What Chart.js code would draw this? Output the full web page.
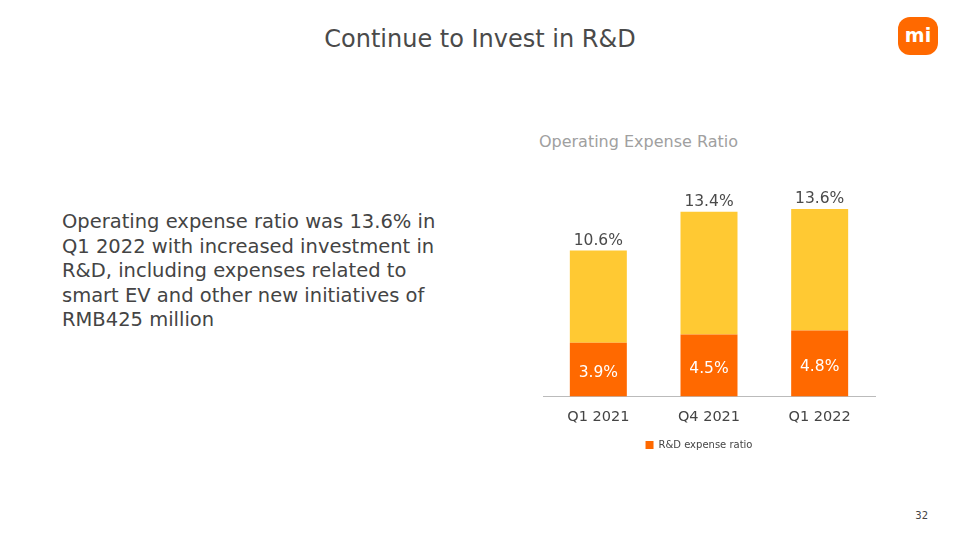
<!DOCTYPE html>
<html>
<head>
<meta charset="utf-8">
<script src="https://cdn.jsdelivr.net/npm/chart.js@4"></script>
<style>
  body { margin: 0; width: 960px; height: 540px; background: #fff; position: relative; overflow: hidden; font-family: "DejaVu Sans", sans-serif; color: #444; }
  .title { position: absolute; top: 25px; left: 0; width: 960px; text-align: center; font-size: 24px; color: #4a4a4a; }
  .logo { position: absolute; left: 898px; top: 17px; width: 40px; height: 38px; background: #ff6900; border-radius: 12px; color: #fff; font-weight: bold; font-size: 19px; text-align: center; line-height: 36px; }
  .side { position: absolute; left: 62px; top: 210px; width: 440px; font-size: 19.5px; line-height: 24.5px; color: #444; }
  .sub { position: absolute; left: 480px; top: 132px; width: 317px; text-align: center; font-size: 16px; color: #a0a0a0; }
  .page { position: absolute; left: 900px; top: 510px; width: 28px; text-align: right; font-size: 10px; color: #444; }
  #wrap { position: absolute; left: 520px; top: 160px; width: 380px; height: 300px; }
</style>
</head>
<body>
<div class="title">Continue to Invest in R&amp;D</div>
<div class="logo">mi</div>
<div class="side">Operating expense ratio was 13.6% in<br>Q1 2022 with increased investment in<br>R&amp;D, including expenses related to<br>smart EV and other new initiatives of<br>RMB425 million</div>
<div class="sub">Operating Expense Ratio</div>
<div class="page">32</div>
<div id="wrap"><canvas id="opexChart"></canvas></div>
<script>
// values (%)
var quarters = ['Q1 2021', 'Q4 2021', 'Q1 2022'];
var rdRatio = [3.9, 4.5, 4.8];
var totalRatio = [10.6, 13.4, 13.6];
var otherRatio = totalRatio.map(function (t, i) { return +(t - rdRatio[i]).toFixed(1); });

// draws the % labels: R&D inside the orange part, total above the bar
var valueLabels = {
    id: 'valueLabels',
    afterLayout: function (chart) {
        // legend sits a bit left of the plot centre on the slide
        chart.legend.left -= 10;
        chart.legend.right -= 10;
    },
    afterDatasetsDraw: function (chart) {
        var ctx = chart.ctx;
        var rdMeta = chart.getDatasetMeta(0);
        var topMeta = chart.getDatasetMeta(1);
        ctx.save();
        ctx.font = '15.5px "DejaVu Sans", sans-serif';
        ctx.textAlign = 'center';
        rdMeta.data.forEach(function (bar, i) {
            ctx.fillStyle = '#ffffff';
            ctx.textBaseline = 'middle';
            ctx.fillText(rdRatio[i] + '%', bar.x, (bar.y + bar.base) / 2 + 3);
            var top = topMeta.data[i];
            ctx.fillStyle = '#4a4a4a';
            ctx.textBaseline = 'bottom';
            ctx.fillText(totalRatio[i].toFixed(1) + '%', top.x, top.y - 2);
        });
        ctx.restore();
    }
};

var ctx = document.getElementById('opexChart').getContext('2d');
var chart = new Chart(ctx, {
    type: 'bar',
    data: {
        labels: quarters,
        datasets: [{
            label: 'R&D expense ratio',
            data: rdRatio,
            backgroundColor: '#ff6900'
        },
        {
            label: 'Other',
            data: otherRatio,
            backgroundColor: '#ffc933'
        }]
    },
    options: {
        responsive: true,
        maintainAspectRatio: false,
        animation: false,
        layout: { padding: { left: 23, right: 25, top: 16, bottom: 0 } },
        datasets: { bar: { barPercentage: 1, categoryPercentage: 0.515 } },
        plugins: {
            tooltip: { enabled: false },
            legend: {
                position: 'bottom',
                labels: {
                    boxWidth: 8, boxHeight: 8, color: '#444', padding: 10,
                    font: { family: 'DejaVu Sans', size: 10 },
                    filter: function (item) { return item.datasetIndex === 0; }
                }
            }
        },
        scales: {
            x: {
                stacked: true,
                grid: { display: false },
                border: { color: '#bbbbbb' },
                ticks: { color: '#444', font: { family: 'DejaVu Sans', size: 14.5 }, padding: 4 }
            },
            y: {
                stacked: true,
                display: false,
                min: 0,
                max: 16
            }
        }
    },
    plugins: [valueLabels]
});
</script>
</body>
</html>
